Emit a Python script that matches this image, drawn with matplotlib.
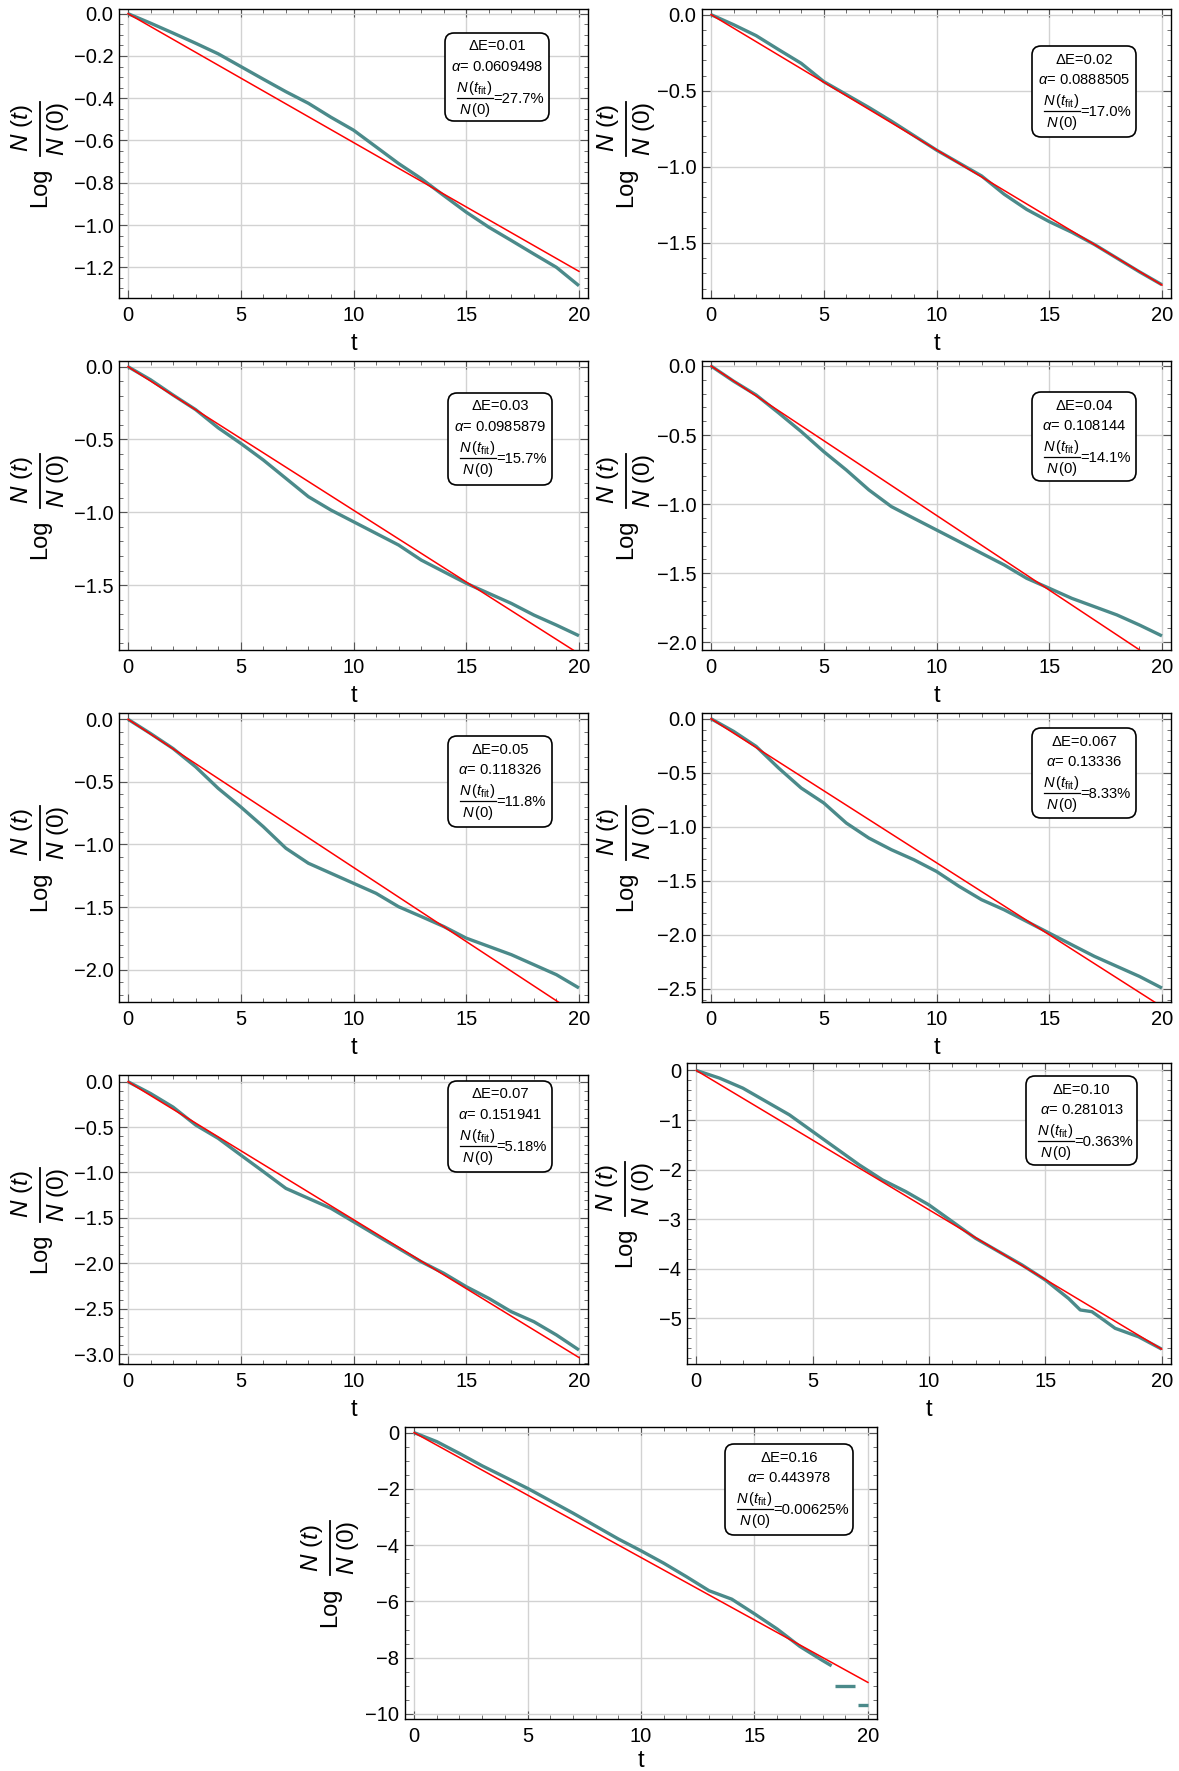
import matplotlib
matplotlib.use('Agg')
import matplotlib.pyplot as plt
from matplotlib.patches import FancyBboxPatch
from matplotlib.lines import Line2D
from matplotlib.transforms import IdentityTransform
from matplotlib.ticker import MultipleLocator, AutoMinorLocator, FuncFormatter

plt.rcParams['font.family'] = ['Liberation Sans', 'DejaVu Sans']
plt.rcParams['mathtext.fontset'] = 'custom'
plt.rcParams['mathtext.rm'] = 'Liberation Sans'
plt.rcParams['mathtext.it'] = 'Liberation Sans:italic'
plt.rcParams['mathtext.bf'] = 'Liberation Sans:bold'

# ---- data ----
delta_E = ['0.01', '0.02', '0.03', '0.04', '0.05', '0.067', '0.07', '0.10', '0.16']
alpha = [0.0609498, 0.0888505, 0.0985879, 0.108144, 0.118326, 0.13336, 0.151941, 0.281013, 0.443978]
ratio = ['27.7%', '17.0%', '15.7%', '14.1%', '11.8%', '8.33%', '5.18%', '0.363%', '0.00625%']

t_grid = list(range(21))
logN_001 = [0, -0.045, -0.092, -0.14, -0.19, -0.25, -0.31, -0.369, -0.424, -0.49, -0.551,
            -0.63, -0.709, -0.78, -0.86, -0.939, -1.01, -1.073, -1.137, -1.2, -1.287]
logN_002 = [0, -0.066, -0.138, -0.23, -0.32, -0.44, -0.525, -0.61, -0.70, -0.795, -0.89,
            -0.975, -1.06, -1.18, -1.28, -1.36, -1.43, -1.51, -1.60, -1.69, -1.775]
logN_003 = [0, -0.09, -0.195, -0.295, -0.42, -0.527, -0.641, -0.767, -0.893, -0.985, -1.065,
            -1.145, -1.225, -1.328, -1.408, -1.488, -1.557, -1.626, -1.706, -1.775, -1.848]
logN_004 = [0, -0.11, -0.21, -0.34, -0.475, -0.62, -0.753, -0.897, -1.018, -1.103, -1.187,
            -1.271, -1.356, -1.44, -1.537, -1.609, -1.682, -1.742, -1.802, -1.875, -1.954]
logN_005 = [0, -0.114, -0.234, -0.38, -0.552, -0.70, -0.858, -1.03, -1.15, -1.23, -1.31,
            -1.39, -1.497, -1.575, -1.655, -1.748, -1.814, -1.88, -1.96, -2.04, -2.146]
logN_0067 = [0, -0.117, -0.256, -0.457, -0.642, -0.78, -0.966, -1.105, -1.213, -1.306, -1.414,
             -1.552, -1.676, -1.769, -1.877, -1.985, -2.093, -2.20, -2.293, -2.386, -2.494]
logN_007 = [0, -0.13, -0.28, -0.477, -0.624, -0.808, -0.99, -1.175, -1.285, -1.395, -1.542,
            -1.69, -1.836, -1.983, -2.11, -2.258, -2.387, -2.534, -2.644, -2.79, -2.956]
t_010 = [0, 1, 2, 3, 4, 5, 6, 7, 8, 9, 10, 11, 12, 13, 14, 15, 16, 16.5, 17, 17.5, 18, 19, 20]
logN_010 = [0, -0.155, -0.357, -0.626, -0.895, -1.232, -1.568, -1.904, -2.207, -2.443, -2.712,
            -3.048, -3.385, -3.654, -3.923, -4.226, -4.6, -4.83, -4.865, -5.03, -5.2, -5.37, -5.62]
t_016 = [0, 1, 2, 3, 4, 5, 6, 7, 8, 9, 10, 11, 12, 13, 14, 15, 16, 17, 18, 18.4]
logN_016 = [0, -0.32, -0.74, -1.18, -1.58, -1.98, -2.42, -2.86, -3.32, -3.78, -4.2,
            -4.64, -5.12, -5.62, -5.92, -6.44, -6.98, -7.6, -8.1, -8.29]
# last points of the 0.16 run: flat steps
step_t0 = [18.55, 19.55]
step_t1 = [19.45, 20.0]
step_val = [-8.99, -9.68]

times = [t_grid] * 7 + [t_010, t_016]
series = [logN_001, logN_002, logN_003, logN_004, logN_005, logN_0067, logN_007, logN_010, logN_016]

# ---- layout (pixels) ----
W, H = 1179, 1771
rects = [(119, 9, 588, 298), (702, 9, 1171, 298),
         (119, 361, 588, 650), (702, 361, 1171, 650),
         (119, 713, 588, 1002), (702, 713, 1171, 1002),
         (119, 1075, 588, 1364), (687, 1063, 1171, 1364),
         (405, 1427, 877, 1719)]
ylims = [(-1.345, 0.022), (-1.862, 0.037), (-1.946, 0.039), (-2.056, 0.036), (-2.258, 0.05),
         (-2.623, 0.053), (-3.11, 0.074), (-5.92, 0.15), (-10.18, 0.2)]
ysteps = [0.2, 0.5, 0.5, 0.5, 0.5, 0.5, 0.5, 1, 2]
yminor = [4, 5, 5, 5, 5, 5, 5, 5, 4]
ydec = [1, 1, 1, 1, 1, 1, 1, 0, 0]
# legend box: left offset, top offset, width, height (px, from axes top-left)
boxes = [(326, 24, 104, 88), (330, 37, 104, 91), (329, 32, 104, 92), (330, 31, 104, 89),
         (329, 23, 104, 91), (330, 15, 104, 90), (329, 6, 104, 91), (339, 13, 111, 89),
         (320, 17, 128, 91)]
ylab_off = [79, 76, 79, 76, 79, 76, 79, 62, 75]
xlab_off = [35, 35, 35, 35, 35, 35, 35, 35, 31]

teal = '#4b8a8a'
fig = plt.figure(figsize=(W / 100, H / 100), dpi=100)
ID = IdentityTransform()


def make_fmt(d):
    def f(v, p):
        if abs(v) < 1e-9:
            v = 0.0
        return f'{v:.{d}f}'.replace('-', '\u2212')
    return FuncFormatter(f)


def dy(y):
    # image row -> display y
    return H - y


for i in range(9):
    x0, y0, x1, y1 = rects[i]
    aw, ah = x1 - x0, y1 - y0
    ax = fig.add_axes([x0 / W, 1 - y1 / H, aw / W, ah / H])
    ax.set_axisbelow(True)
    ax.grid(True, which='major', color='#d2d2d2', lw=1.0)

    ax.plot(times[i], series[i], color=teal, lw=2.4, solid_capstyle='butt', zorder=3)
    if i == 8:
        for a, b, v in zip(step_t0, step_t1, step_val):
            ax.plot([a, b], [v, v], color=teal, lw=2.4, solid_capstyle='butt', zorder=3)
    ax.plot([0, 20], [0, -alpha[i] * 20], color='#ff0000', lw=1.1, zorder=4)

    ax.set_xlim(-0.4, 20.4)
    ax.set_ylim(*ylims[i])
    ax.xaxis.set_major_locator(MultipleLocator(5))
    ax.xaxis.set_minor_locator(AutoMinorLocator(5))
    ax.yaxis.set_major_locator(MultipleLocator(ysteps[i]))
    ax.yaxis.set_minor_locator(AutoMinorLocator(yminor[i]))
    ax.yaxis.set_major_formatter(make_fmt(ydec[i]))
    ax.tick_params(which='both', direction='in', top=True, right=True, colors='#555555',
                   labelcolor='black', labelsize=14.5)
    ax.tick_params(which='major', length=6, width=0.8)
    ax.tick_params(which='minor', length=3, width=0.6)
    ax.tick_params(axis='x', pad=6)
    ax.tick_params(axis='y', pad=4)
    for s in ax.spines.values():
        s.set_color('black')
        s.set_linewidth(1.0)

    ax.set_xlabel('t', fontsize=17)
    ax.xaxis.set_label_coords(0.5, -xlab_off[i] / ah)

    # y label: Log N(t)/N(0), built from pieces so the fraction is large
    bx = x0 - ylab_off[i]
    cy = (y0 + y1) / 2
    fy = cy - 25
    ax.text(bx, dy(cy + 34), 'Log', transform=ID, rotation=90, ha='center', va='center',
            fontsize=17)
    ax.text(bx - 18, dy(fy), r'$N\ (t)$', transform=ID, rotation=90, ha='center',
            va='center', fontsize=17.5)
    ax.text(bx + 18, dy(fy), r'$N\ (0)$', transform=ID, rotation=90, ha='center',
            va='center', fontsize=17.5)
    ax.add_artist(Line2D([bx, bx], [dy(fy + 27), dy(fy - 27)], transform=ID, color='black',
                         lw=1.3, clip_on=False))

    # legend box in pixel coordinates
    bl, bt, bw, bh = boxes[i]
    px = x0 + bl
    top = y0 + bt
    box = FancyBboxPatch((px, dy(top + bh)), bw, bh, boxstyle='round,pad=0,rounding_size=9',
                         transform=ID, facecolor='white', edgecolor='black',
                         lw=1.2, zorder=6, clip_on=False)
    ax.add_artist(box)
    cx = px + bw / 2
    ax.text(cx, dy(top + 13.5), '\u0394E=' + delta_E[i], transform=ID,
            ha='center', va='center', fontsize=10.6, zorder=7)
    ax.text(cx, dy(top + 34), r'$\alpha$= ' + f'{alpha[i]:g}', transform=ID,
            ha='center', va='center', fontsize=10.6, zorder=7)
    fl = px + 11.5
    ax.text(fl + 18, dy(top + 55), r'$N\,(t_{\mathrm{fit}})$', transform=ID,
            ha='center', va='center', fontsize=10.6, zorder=7)
    ax.text(fl + 18, dy(top + 77), r'$N\,(0)$', transform=ID,
            ha='center', va='center', fontsize=10.6, zorder=7)
    ax.add_artist(Line2D([fl, fl + 36], [dy(top + 65), dy(top + 65)], transform=ID,
                         color='black', lw=0.9, zorder=7, clip_on=False))
    ax.text(fl + 37, dy(top + 66), '=' + ratio[i], transform=ID,
            ha='left', va='center', fontsize=10.6, zorder=7)

fig.savefig('out.png', dpi=100)
